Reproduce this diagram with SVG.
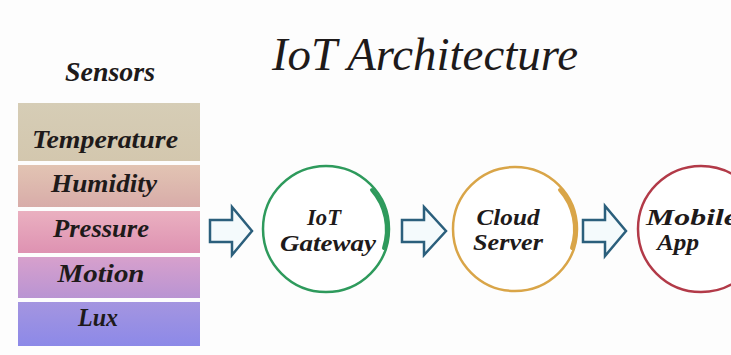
<svg xmlns="http://www.w3.org/2000/svg" width="731" height="355" viewBox="0 0 731 355">
<defs>
<linearGradient id="gT" x1="0" y1="0" x2="0" y2="1"><stop offset="0" stop-color="#d6cdb6"/><stop offset="1" stop-color="#d3c7ae"/></linearGradient>
<linearGradient id="gH" x1="0" y1="0" x2="0" y2="1"><stop offset="0" stop-color="#e2c4b3"/><stop offset="1" stop-color="#d8aca9"/></linearGradient>
<linearGradient id="gP" x1="0" y1="0" x2="0" y2="1"><stop offset="0" stop-color="#eab0c0"/><stop offset="1" stop-color="#de92b2"/></linearGradient>
<linearGradient id="gM" x1="0" y1="0" x2="0" y2="1"><stop offset="0" stop-color="#d7a0cc"/><stop offset="1" stop-color="#b994d3"/></linearGradient>
<linearGradient id="gL" x1="0" y1="0" x2="0" y2="1"><stop offset="0" stop-color="#a495e0"/><stop offset="1" stop-color="#8c89e8"/></linearGradient>
</defs>
<style>
text{font-family:"Liberation Serif","DejaVu Serif",serif;font-style:italic;fill:#1e1a1a;}
.title{font-size:46px;}
.hdr{font-size:27px;font-weight:bold;}
.lbl{font-size:26px;font-weight:bold;text-anchor:middle;}
.node{font-size:23px;font-weight:bold;text-anchor:middle;}
.arrow{fill:#f4fafc;stroke:#2b5f7c;stroke-width:2.5;stroke-linejoin:miter;}
.ring{fill:#ffffff;stroke-width:2.5;}
.swoosh{fill:none;stroke-width:4;stroke-linecap:round;}
</style>
<rect width="731" height="355" fill="#fdfdfd"/>
<text class="title" x="272" y="70" textLength="306" lengthAdjust="spacingAndGlyphs">IoT Architecture</text>
<text class="hdr" x="65" y="81" textLength="90" lengthAdjust="spacingAndGlyphs">Sensors</text>
<g id="sensors">
<g id="temperature"><rect x="18" y="103" width="182" height="58" fill="url(#gT)"/><text class="lbl" x="105" y="148" textLength="146" lengthAdjust="spacingAndGlyphs">Temperature</text></g>
<g id="humidity"><rect x="18" y="165" width="182" height="42" fill="url(#gH)"/><text class="lbl" x="104" y="192" textLength="106" lengthAdjust="spacingAndGlyphs">Humidity</text></g>
<g id="pressure"><rect x="18" y="211" width="182" height="42" fill="url(#gP)"/><text class="lbl" x="101" y="237" textLength="96" lengthAdjust="spacingAndGlyphs">Pressure</text></g>
<g id="motion"><rect x="18" y="257" width="182" height="41" fill="url(#gM)"/><text class="lbl" x="101" y="282" textLength="87" lengthAdjust="spacingAndGlyphs">Motion</text></g>
<g id="lux"><rect x="18" y="302" width="182" height="44" fill="url(#gL)"/><text class="lbl" x="98" y="326" textLength="40" lengthAdjust="spacingAndGlyphs">Lux</text></g>
</g>
<g id="connectors">
<polygon class="arrow" points="210,220 232,220 232,207 252,231 232,255 232,242 210,242"/>
<polygon class="arrow" points="402,220 424,220 424,207 446,231 424,255 424,242 402,242"/>
<polygon class="arrow" points="583,220 605,220 605,206 626,231 605,256 605,242 583,242"/>
</g>
<g id="gateway">
<circle class="ring" cx="326" cy="229" r="63" stroke="#2e9a5c"/>
<path class="swoosh" stroke="#2e9a5c" d="M 372 190 A 60 60 0 0 1 384 248"/>
<text class="node" x="324" y="225" textLength="34" lengthAdjust="spacingAndGlyphs">IoT</text>
<text class="node" x="328" y="251" textLength="96" lengthAdjust="spacingAndGlyphs">Gateway</text>
</g>
<g id="cloud">
<circle class="ring" cx="515" cy="229" r="62" stroke="#d9a548"/>
<path class="swoosh" stroke="#d9a548" d="M 560 190 A 59 59 0 0 1 572 248"/>
<text class="node" x="508" y="225" textLength="63" lengthAdjust="spacingAndGlyphs">Cloud</text>
<text class="node" x="508" y="250" textLength="70" lengthAdjust="spacingAndGlyphs">Server</text>
</g>
<g id="mobile">
<circle class="ring" cx="701" cy="229" r="63" stroke="#b23a48"/>
<text class="node" x="646" y="225" style="text-anchor:start" textLength="92" lengthAdjust="spacingAndGlyphs">Mobile</text>
<text class="node" x="678" y="250" textLength="42" lengthAdjust="spacingAndGlyphs">App</text>
</g>
</svg>
